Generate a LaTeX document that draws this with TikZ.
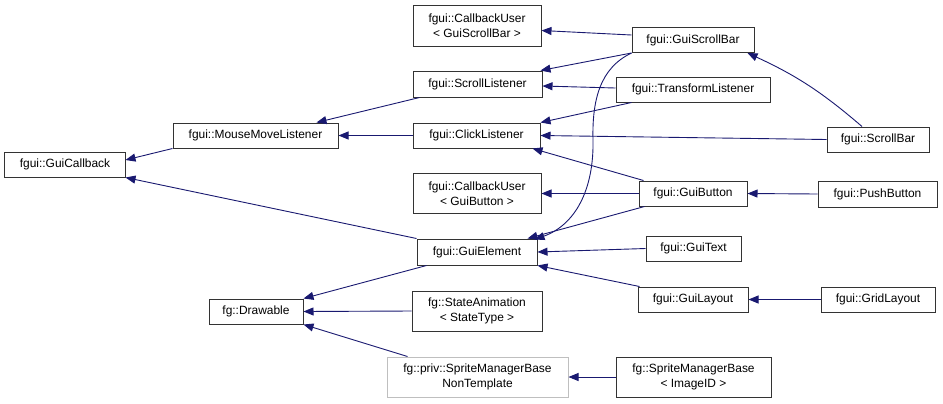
\documentclass[tikz,border=0pt]{standalone}
\usepackage{fontspec}
\setmainfont{Liberation Sans}
\usetikzlibrary{arrows.meta}
\definecolor{edgecol}{HTML}{191970}
\definecolor{boxgray}{HTML}{BFBFBF}
\tikzset{
  cls/.style={draw=black!80, line width=1bp, fill=white, inner sep=0pt, align=center,
    font=\fontsize{12}{15}\selectfont},
  grayclass/.style={cls, draw=boxgray},
  inh/.style={draw=edgecol, line width=0.9bp, {Triangle[length=10bp,width=8bp,fill=edgecol]}-}
}
\begin{document}
\begin{tikzpicture}[x=1bp,y=-1bp]
\useasboundingbox (0,0) rectangle (943,403);
% nodes
\node[cls, minimum width=120bp, minimum height=25bp] (cb) at (65,164.5) {fgui::GuiCallback};
\node[cls, minimum width=165bp, minimum height=25bp] (mml) at (255.5,135.5) {fgui::MouseMoveListener};
\node[cls, minimum width=128bp, minimum height=41bp] (cbusb) at (477,25.5) {fgui::CallbackUser\\\textless{} GuiScrollBar \textgreater};
\node[cls, minimum width=122bp, minimum height=25bp] (gsb) at (693,40) {fgui::GuiScrollBar};
\node[cls, minimum width=129bp, minimum height=26bp] (sl) at (477.5,84) {fgui::ScrollListener};
\node[cls, minimum width=154bp, minimum height=25bp] (tl) at (693,89.5) {fgui::TransformListener};
\node[cls, minimum width=127bp, minimum height=25bp] (cl) at (476.5,135.5) {fgui::ClickListener};
\node[cls, minimum width=128bp, minimum height=40bp] (cbugb) at (477,193.5) {fgui::CallbackUser\\\textless{} GuiButton \textgreater};
\node[cls, minimum width=108bp, minimum height=25bp] (gb) at (693,193.5) {fgui::GuiButton};
\node[cls, minimum width=120bp, minimum height=26bp] (ge) at (477,252) {fgui::GuiElement};
\node[cls, minimum width=95bp, minimum height=25bp] (gt) at (693.5,248.5) {fgui::GuiText};
\node[cls, minimum width=110bp, minimum height=25bp] (gl) at (693,299.5) {fgui::GuiLayout};
\node[cls, minimum width=130bp, minimum height=40bp] (sa) at (477,311) {fg::StateAnimation\\\textless{} StateType \textgreater};
\node[grayclass, minimum width=181bp, minimum height=40bp] (smbnt) at (477.5,377) {fg::priv::SpriteManagerBase\\NonTemplate};
\node[cls, minimum width=155bp, minimum height=40bp] (smbid) at (693.5,377) {fg::SpriteManagerBase\\\textless{} ImageID \textgreater};
\node[cls, minimum width=102bp, minimum height=25bp] (sb) at (878,139.5) {fgui::ScrollBar};
\node[cls, minimum width=119bp, minimum height=26bp] (pb) at (877.5,194) {fgui::PushButton};
\node[cls, minimum width=114bp, minimum height=25bp] (grl) at (878,299.5) {fgui::GridLayout};
\node[cls, minimum width=94bp, minimum height=25bp] (dr) at (256,311.5) {fg::Drawable};
% edges
\draw[inh] ([yshift=4.5bp]cb.east) -- (mml.south west);
\draw[inh] (cb.south east) -- (ge.north west);
\draw[inh] ([xshift=-22bp]mml.north east) -- ([xshift=7bp]sl.south west);
\draw[inh] (mml.east) -- (cl.west);
\draw[inh] ([yshift=-5bp]cbusb.east) -- ([yshift=5bp]gsb.west);
\draw[inh] ([xshift=-2bp]sl.north east) -- (gsb.south west);
\draw[inh] ([xshift=-3bp,yshift=-1bp]ge.north east) .. controls (575,225) and (594,190) .. (593,140) .. controls (592,100) and (600,68) .. (gsb.south west);
\draw[inh] ([yshift=-2bp]sl.east) -- ([yshift=1.5bp]tl.west);
\draw[inh] (cl.north east) -- ([xshift=16bp]tl.south west);
\draw[inh] ([xshift=-7bp]gsb.south east) to[bend left=8] ([xshift=-16bp]sb.north);
\draw[inh] (cl.east) -- (sb.west);
\draw[inh] ([xshift=-8bp]cl.south east) -- ([xshift=5bp]gb.north west);
\draw[inh] (cbugb.east) -- (gb.west);
\draw[inh] ([xshift=-10bp]ge.north east) -- ([xshift=6bp]gb.south west);
\draw[inh] (gb.east) -- (pb.west);
\draw[inh] (ge.east) -- (gt.west);
\draw[inh] (ge.south east) -- ([xshift=2bp]gl.north west);
\draw[inh] (gl.east) -- (grl.west);
\draw[inh] (dr.north east) -- ([xshift=10bp]ge.south west);
\draw[inh] (dr.east) -- (sa.west);
\draw[inh] (dr.south east) -- ([xshift=21bp]smbnt.north west);
\draw[inh] (smbnt.east) -- (smbid.west);
\end{tikzpicture}
\end{document}
